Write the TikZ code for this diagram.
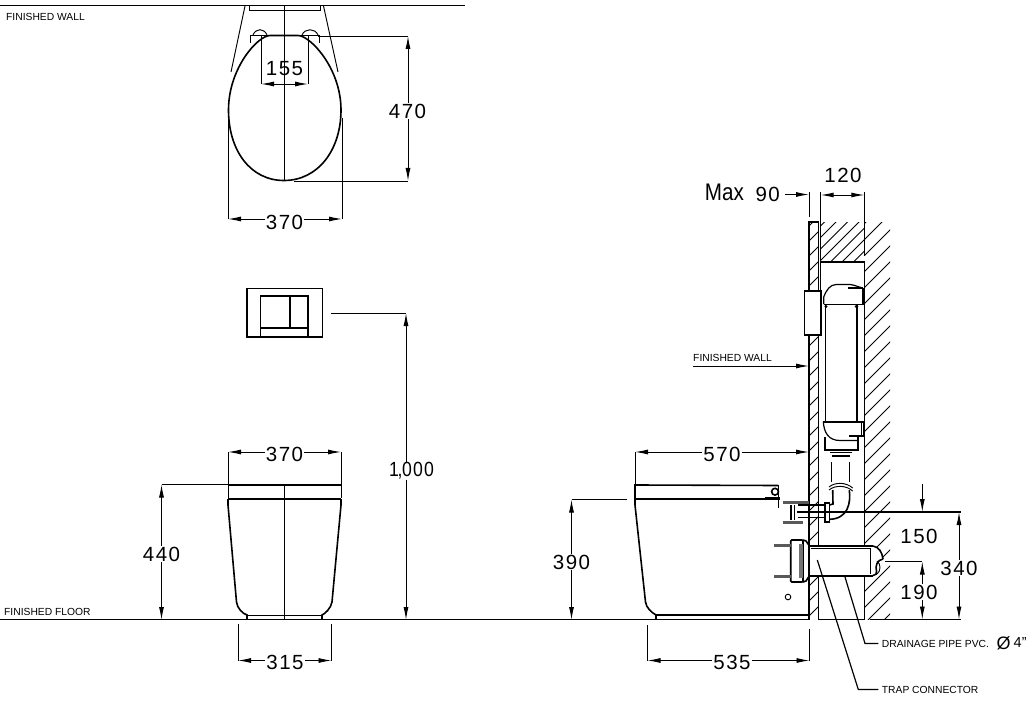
\documentclass[tikz,border=0pt]{standalone}
\usepackage{fontspec}
\setmainfont{Liberation Sans}
\newfontfamily\dimfont[LetterSpace=7]{Liberation Sans}
\usetikzlibrary{arrows.meta,calc}
\tikzset{
  x=1pt,y=-1pt,
  thinl/.style={line width=0.95pt,black},
  med/.style={line width=1.2pt,black},
  thick1/.style={line width=1.6pt,black},
  dim/.style={line width=0.95pt,black,{Latex[length=13pt,width=5pt]}-{Latex[length=13pt,width=5pt]}},
  dimr/.style={line width=0.95pt,black,-{Latex[length=13pt,width=5pt]}},
  dimtxt/.style={inner sep=1pt,fill=white,font=\dimfont\fontsize{20.5}{22}\selectfont},
  dimtxtn/.style={inner sep=0.5pt,font=\dimfont\fontsize{20.5}{22}\selectfont},
  small/.style={inner sep=0pt,anchor=west,font=\fontsize{10.3}{12}\selectfont},
  hatch/.style={line width=1pt,black},
  screw/.style={line width=2.8pt,black!65}
}
\newcommand{\hatchbox}[5]{%
  \begin{scope}
    \clip (#1,#2) rectangle (#3,#4);
    \foreach \k in {0,#5,...,2000}{\draw[hatch] (\k-1000,1000) -- (\k,0);}
  \end{scope}}
\begin{document}
\begin{tikzpicture}
\useasboundingbox (0,0) rectangle (1034,706);
% === Top view
\draw[thick1] (0,5.5) -- (465,5.5);
\node[small] (fw1) at (6,16.5) {FINISHED WALL};
\draw[thinl] (249,6) -- (249,10) -- (320,10) -- (320,6);
\draw[thinl] (245,6) -- (231,72);
\draw[thinl] (323.5,6) -- (338,72);
\draw[thick1] (284,180.5) .. controls (250,180.5) and (228.5,150) .. (228.5,110) .. controls (228.5,68) and (258,35.5) .. (270,35.5) -- (298,35.5) .. controls (310,35.5) and (341,68) .. (341,110) .. controls (341,150) and (318,180.5) .. (284,180.5);
\draw[thinl] (250.5,43) -- (250.5,35) -- (319,35) -- (319,43);
\draw[thinl] (253,35) .. controls (256,28) and (264,28) .. (267,35);
\draw[thinl] (302,35) .. controls (305,28) and (315,28) .. (318,35);
\draw[thinl] (284.5,6) -- (284.5,180);
\coordinate (a155l) at (261,84); \coordinate (a155r) at (308,84);
\draw[thinl] (261,36) -- (a155l); \draw[thinl] (308,36) -- (a155r);
\draw[dim] (a155l) -- (a155r);
\node[dimtxtn] (t155) at (284.5,69) {155};
\coordinate (a470t) at (408,36); \coordinate (a470b) at (408,181);
\draw[thinl] (318,36) -- (a470t); \draw[thinl] (294,181) -- (a470b);
\draw[dim] (a470t) -- (a470b);
\node[dimtxt] (t470) at (407.5,111) {470};
\coordinate (a370l) at (228,219); \coordinate (a370r) at (342,219);
\draw[thinl] (228,118) -- (228,219); \draw[thinl] (342,118) -- (342,219);
\draw[dim] (a370l) -- (a370r);
\node[dimtxt] (t370) at (284.5,222) {370};
% === Flush plate
\draw[thick1] (247,288.5) rectangle (322.5,337.5);
\draw[line width=2pt] (247,337) -- (322.5,337);
\draw[thick1] (260.5,296) rectangle (308,337);
\draw[thick1] (290,296) -- (290,328);
\draw[med] (260.5,328) -- (308,328);
% 1000 dim
\coordinate (a1kt) at (406,313); \coordinate (a1kb) at (406,620);
\draw[thinl] (331,313) -- (a1kt);
\draw[dim] (a1kt) -- (a1kb);
\node[dimtxt,xscale=0.86] (t1k) at (411.5,471) {1\kern-1.5pt,\kern-0.5pt 000};
% === Floor
\draw[thick1] (0,619.5) -- (808,619.5);
\node[small] (ff) at (4,612) {FINISHED FLOOR};
% === Front view
\draw[thick1] (228,485) -- (341,485);
\draw[thinl] (228,485) -- (228,498); \draw[thinl] (341,485) -- (341,498);
\draw[line width=1.9pt] (228,498.7) -- (341,498.7);
\draw[thick1] (228,499) -- (228,505) -- (236.5,602) .. controls (237,608) and (243,614) .. (247,615) -- (247,619.5);
\draw[thick1] (341,499) -- (341,505) -- (332,602) .. controls (331,608) and (325,614) .. (322,615) -- (322,619.5);
\draw[thinl] (247,615) -- (322,615);
\draw[thinl] (284.5,485) -- (284.5,620);
\coordinate (f370l) at (228,452); \coordinate (f370r) at (341,452);
\draw[thinl] (228,452) -- (228,485); \draw[thinl] (341,452) -- (341,485);
\draw[dim] (f370l) -- (f370r);
\node[dimtxt] (tf370) at (284.5,454) {370};
\coordinate (a440t) at (161.5,484.5); \coordinate (a440b) at (161.5,620);
\draw[thinl] (a440t) -- (228,484.5);
\draw[dim] (a440t) -- (a440b);
\node[dimtxt] (t440) at (161.5,554) {440};
\coordinate (a315l) at (238,660.5); \coordinate (a315r) at (331.5,660.5);
\draw[thinl] (238,624) -- (a315l); \draw[thinl] (331.5,624) -- (a315r);
\draw[dim] (a315l) -- (a315r);
\node[dimtxt] (t315) at (285,662) {315};
% === Side view: toilet
\draw[thick1] (635,499) -- (635,485) -- (778,485.5);
\draw[line width=1.9pt] (635,498.7) -- (775,498.7);
\draw[line width=2.6pt] (765,498.3) -- (780,498.3);
\draw[thinl] (778,485) -- (778,508);
\draw[thick1] (775,491.7) circle (3.4);
\draw[thick1] (635,499) -- (635,505) -- (645.5,602) .. controls (646.5,608) and (651,612) .. (656,615) -- (656,619);
\draw[med] (656,615) -- (808,615);
\draw[thinl] (788,597) circle (2.8);
% 570
\coordinate (a570l) at (635,452); \coordinate (a570r) at (809,452);
\draw[thinl] (635,452) -- (635,492);
\draw[thinl] (809,420) -- (809,452);
\draw[dim] (a570l) -- (a570r);
\node[dimtxt] (t570) at (722,454) {570};
% 390
\coordinate (a390t) at (571.5,499.5); \coordinate (a390b) at (571.5,620);
\draw[thinl] (a390t) -- (627,499.5);
\draw[dim] (a390t) -- (a390b);
\node[dimtxt] (t390) at (571.5,562) {390};
% 535
\coordinate (a535l) at (647.5,660.5); \coordinate (a535r) at (809.5,660.5);
\draw[thinl] (647.5,625) -- (a535l); \draw[thinl] (809.5,629) -- (a535r);
\draw[dim] (a535l) -- (a535r);
\node[dimtxt] (t535) at (732,662) {535};
% === Walls
\hatchbox{809}{222}{818.5}{619}{15}
\hatchbox{820.5}{222}{864}{262}{11.5}
\hatchbox{864.5}{222}{890}{619}{16}
\draw[thick1] (809,619.5) -- (809,222) -- (818.5,222) -- (818.5,619.5);
\draw[thick1] (864.5,262) -- (864.5,545);
\draw[thick1] (864.5,576) -- (864.5,619.5);
\draw[thick1] (820,262) -- (864.5,262);
\draw[med] (818.5,619.5) -- (864.5,619.5);
\draw[med] (870,619.5) -- (961,619.5);
% 120 / 90 dims
\draw[thinl] (820.7,192) -- (820.7,262);
\draw[thinl] (864.3,192) -- (864.3,256);
\draw[thinl] (809,192) -- (809,217);
\coordinate (a120l) at (820.7,195); \coordinate (a120r) at (864.3,195);
\draw[dim] (a120l) -- (a120r);
\node[dimtxtn] (t120) at (843,175) {120};
\coordinate (a90s) at (785,194.5); \coordinate (a90e) at (809,194.5);
\draw[dimr] (a90s) -- (a90e);
\node[inner sep=0pt,anchor=east,font=\dimfont\fontsize{20.5}{22}\selectfont] (t90) at (780,194.5) {90};
\node[inner sep=0pt,anchor=east,font=\fontsize{24}{26}\selectfont,xscale=0.86] (tmax) at (744,192) {Max};
% Finished wall side
\node[small] (fw2) at (693,357.5) {FINISHED WALL};
\coordinate (fwa) at (693,366); \coordinate (fwb) at (809,366);
\draw[dimr] (fwa) -- (fwb);
% Plate side
\draw[thinl] (820.7,262) -- (820.7,335);
\draw[thick1,fill=white] (804.3,290.7) rectangle (821,335);
% Cistern top
\draw[med] (823.7,304) -- (823.7,297) .. controls (827,289) and (830,285) .. (836,284.5) -- (850,284.5) .. controls (855,285) and (858,287) .. (863,288);
\draw[med] (848,288) -- (863,288);
\draw[thick1] (823.7,304.5) -- (863,304.5) -- (863,288);
\draw[thick1] (825.3,305) -- (825.3,421);
\draw[thick1] (856.7,305) -- (856.7,421);
\fill (826,306.5) circle (1.6);
\fill (856.5,306.5) circle (1.8);
\draw[line width=1.8pt] (857.3,317) -- (857.3,327);
% Lower tank
\draw[thick1] (823.3,421.7) -- (864,421.7);
\draw[med] (823.3,421.7) .. controls (824,432) and (828,440.5) .. (840,440.5) -- (858,440.5);
\draw[thick1] (849,436) -- (864,436) -- (864,421.7);
\draw[thinl] (861,422) -- (861,436);
\draw[thick1] (825,437) -- (825,450) -- (858,450) -- (858,436);
\draw[thick1] (830,452.3) -- (852,452.3);
\draw[line width=2pt] (832,456.3) -- (850,456.3);
% pipe
\draw[med] (831.7,462) -- (831.7,482);
\draw[med] (849.3,462) -- (849.3,482);
\draw[thinl] (829,487) .. controls (835,482) and (846,482) .. (852.7,488);
\draw[thinl] (829,490) .. controls (835,485) and (846,485) .. (852.7,491);
\draw[thick1] (849.3,490) .. controls (851,503) and (848,519) .. (829.3,519.3);
\draw[thick1] (832.7,490) -- (833,504) -- (829.3,505);
\draw[thick1] (825,502.7) rectangle (829.3,521.7);
\draw[thick1] (798.3,505) -- (825,505);
\draw[thick1] (798.3,517.5) -- (825,517.5);
% bracket
\draw[screw] (782.7,502.8) -- (809,502.8);
\draw[thick1] (790.7,505) -- (790.7,520);
\draw[thinl] (794,505) -- (794,520);
\draw[screw] (782.7,522.5) -- (803,522.5);
\draw[thick1] (797,511.7) -- (961,511.7);
% trap connector
\draw[thick1,rounded corners=1pt] (790.7,540) rectangle (803,582);
\draw[line width=4pt,black!55] (801,544) -- (801,578);
\draw[thick1] (803,540) -- (806,541) -- (809.5,546);
\draw[thick1] (803,582) -- (806,581) -- (809.5,575.5);
\draw[screw] (774,545.7) -- (790.7,545.7);
\draw[screw] (774,576.7) -- (790.7,576.7);
% drain pipe
\fill[white] (810,547) rectangle (877,575);
\fill[white] (875,546) .. controls (881,548) and (883,553) .. (883,559) -- (877,576) -- (870,576) -- cycle;
\draw[thick1] (809.5,546) -- (873,546);
\draw[line width=2pt] (809.5,575.5) -- (873,575.5);
\draw[thinl] (810.7,548.5) -- (870,548.5) -- (870,574);
\draw[thick1] (873,546) .. controls (879,547) and (882,552) .. (883,559);
\draw[thick1] (883,559) .. controls (877,560) and (875,566) .. (876.5,571) .. controls (877,574) and (876,575) .. (873,575.5);
\draw[thinl] (877,561) .. controls (881,564) and (881,571) .. (877,574);
% dims right
\coordinate (a340t) at (959,512); \coordinate (a340b) at (959,619.5);
\draw[dim] (a340t) -- (a340b);
\node[dimtxt] (t340) at (959,568) {340};
\coordinate (a190t) at (922.3,561.5); \coordinate (a190b) at (922.3,619.5);
\draw[thinl] (885,561.5) -- (a190t);
\draw[dim] (a190t) -- (a190b);
\node[dimtxt] (t190) at (919,592) {190};
\coordinate (a150t) at (922.3,484); \coordinate (a150b) at (922.3,512);
\draw[dimr] (a150t) -- (a150b);
\node[dimtxtn] (t150) at (919,536) {150};
% leaders
\node[small] (dp) at (881.7,643.5) {DRAINAGE PIPE PVC.};
\node[inner sep=0pt,font=\fontsize{18}{20}\selectfont] (phi) at (1003.5,643.5) {Ø};
\node[inner sep=0pt,anchor=west,font=\fontsize{14.5}{16}\selectfont] (four) at (1013.5,643) {4"};
\draw[med] (845,577) -- (865,643.5) -- (878.3,643.5);
\node[small] (tc) at (881.7,690) {TRAP CONNECTOR};
\draw[med] (817.3,560) -- (858.3,689.5) -- (878.3,689.5);
\end{tikzpicture}
\end{document}
